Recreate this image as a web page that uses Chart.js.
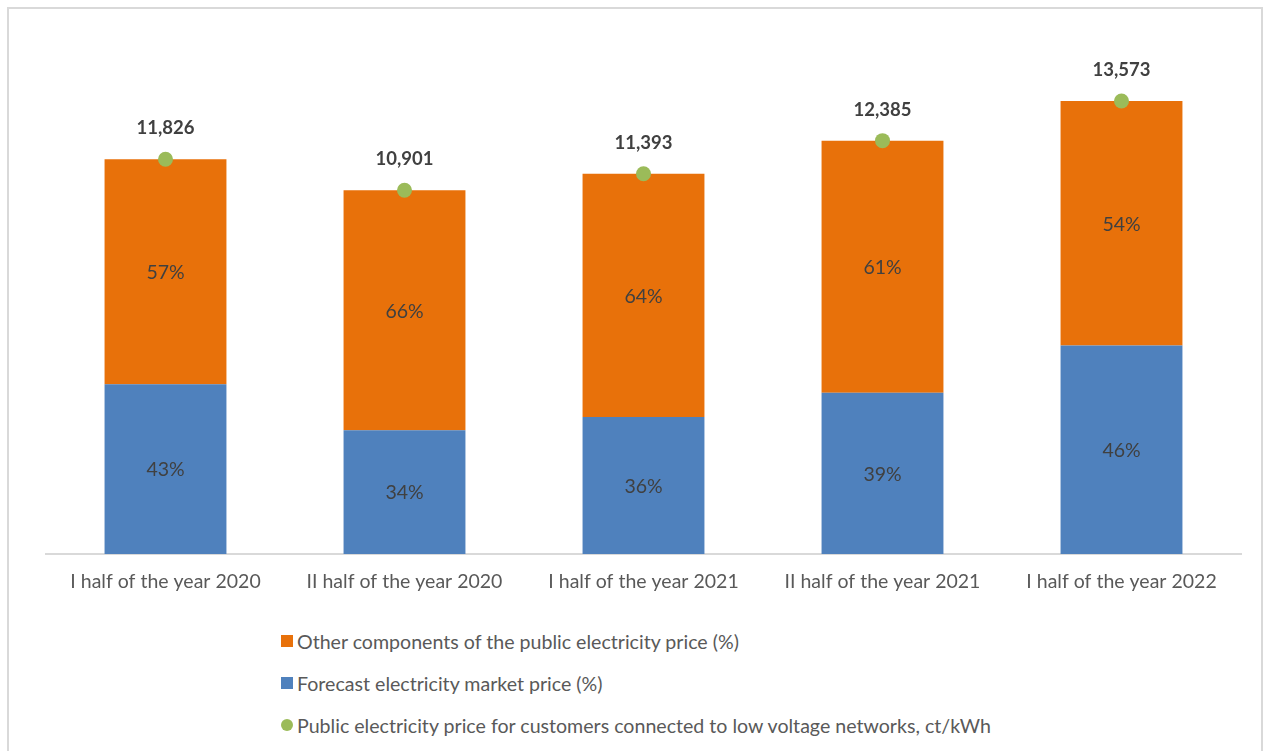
<!DOCTYPE html>
<html>
<head>
<meta charset="utf-8">
<script src="https://cdn.jsdelivr.net/npm/chart.js@4"></script>
<style>
    body { margin: 0; background: #fff; width: 1267px; height: 751px; overflow: hidden; position: relative; font-family: Lato, "Open Sans", sans-serif; }
    #frame { position: absolute; left: 7px; top: 7px; width: 1252px; height: 760px; border: 2px solid #d9d9d9; }
    #wrap { position: absolute; left: 0; top: 0; width: 1267px; height: 604px; }
    #legend { position: absolute; left: 281px; top: 630px; color: #595959; font-size: 19.6px; }
    .item { height: 22px; margin-bottom: 20px; display: flex; align-items: center; white-space: nowrap; }
    .box { width: 12px; height: 12px; margin-right: 4px; }
    .dot { border-radius: 50%; }
</style>
</head>
<body>
<div id="frame"></div>
<div id="wrap"><canvas id="chart"></canvas></div>
<div id="legend"></div>
<script>
const periods = [
    "I half of the year 2020",
    "II half of the year 2020",
    "I half of the year 2021",
    "II half of the year 2021",
    "I half of the year 2022",
];
const price = [11.826, 10.901, 11.393, 12.385, 13.573]; // ct/kWh
const marketShare = [43, 34, 36, 39, 46]; // %
const otherShare = [57, 66, 64, 61, 54]; // %

const labelOther = "Other components of the public electricity price (%)";
const labelMarket = "Forecast electricity market price (%)";
const labelPrice = "Public electricity price for customers connected to low voltage networks, ct/kWh";

const orange = "#E8710A";
const blue = "#4F81BD";
const green = "#9BBB59";

// bar segment heights = share of the total price
const marketPart = price.map((p, i) => (p * marketShare[i]) / 100);
const otherPart = price.map((p, i) => (p * otherShare[i]) / 100);

const valueLabels = {
    id: "valueLabels",
    afterDatasetsDraw(chart) {
        const ctx = chart.ctx;
        ctx.save();
        ctx.textAlign = "center";
        ctx.textBaseline = "middle";
        chart.data.datasets.forEach((ds, di) => {
            const meta = chart.getDatasetMeta(di);
            meta.data.forEach((el, i) => {
                if (ds.type === "line") {
                    ctx.font = "bold 18.5px Lato";
                    ctx.fillStyle = "#404040";
                    ctx.fillText(price[i].toFixed(3).replace(".", ","), el.x, el.y - 31);
                } else {
                    ctx.font = "19.5px Lato";
                    ctx.fillStyle = "#404040";
                    ctx.fillText(ds.shares[i] + "%", el.x, (el.y + el.base) / 2 + 1);
                }
            });
        });
        ctx.restore();
    },
};

const ctx = document.getElementById("chart").getContext("2d");
const chart = new Chart(ctx, {
    type: "bar",
    data: {
        labels: periods,
        datasets: [
            {
                type: "line",
                label: labelPrice,
                data: price,
                showLine: false,
                pointRadius: 7.5,
                pointBackgroundColor: green,
                pointBorderWidth: 0,
                backgroundColor: green,
                stack: "price",
                order: 0,
            },
            {
                label: labelMarket,
                data: marketPart,
                shares: marketShare,
                backgroundColor: blue,
                stack: "bars",
                order: 1,
            },
            {
                label: labelOther,
                data: otherPart,
                shares: otherShare,
                backgroundColor: orange,
                stack: "bars",
                order: 1,
            },
        ],
    },
    options: {
        responsive: true,
        maintainAspectRatio: false,
        animation: false,
        datasets: {
            bar: { categoryPercentage: 1, barPercentage: 0.51 },
        },
        layout: { padding: { left: 46, right: 26, top: 20, bottom: 0 } },
        plugins: {
            legend: { display: false },
            tooltip: { enabled: false },
        },
        scales: {
            x: {
                stacked: true,
                grid: { display: false, drawTicks: false },
                border: { display: true, color: "#d9d9d9", width: 2 },
                ticks: { color: "#595959", font: { family: "Lato", size: 19.5 }, padding: 16, maxRotation: 0 },
                afterFit(scale) { scale.height = 50; },
            },
            y: {
                display: false,
                stacked: true,
                min: 0,
                max: 16,
            },
        },
    },
    plugins: [valueLabels],
});

// legend in the same order as the original
const legend = document.getElementById("legend");
[
    [labelOther, orange, false],
    [labelMarket, blue, false],
    [labelPrice, green, true],
].forEach(([text, color, round]) => {
    const row = document.createElement("div");
    row.className = "item";
    row.innerHTML = `<span class="box${round ? " dot" : ""}" style="background:${color}"></span><span>${text}</span>`;
    legend.appendChild(row);
});
</script>
</body>
</html>
